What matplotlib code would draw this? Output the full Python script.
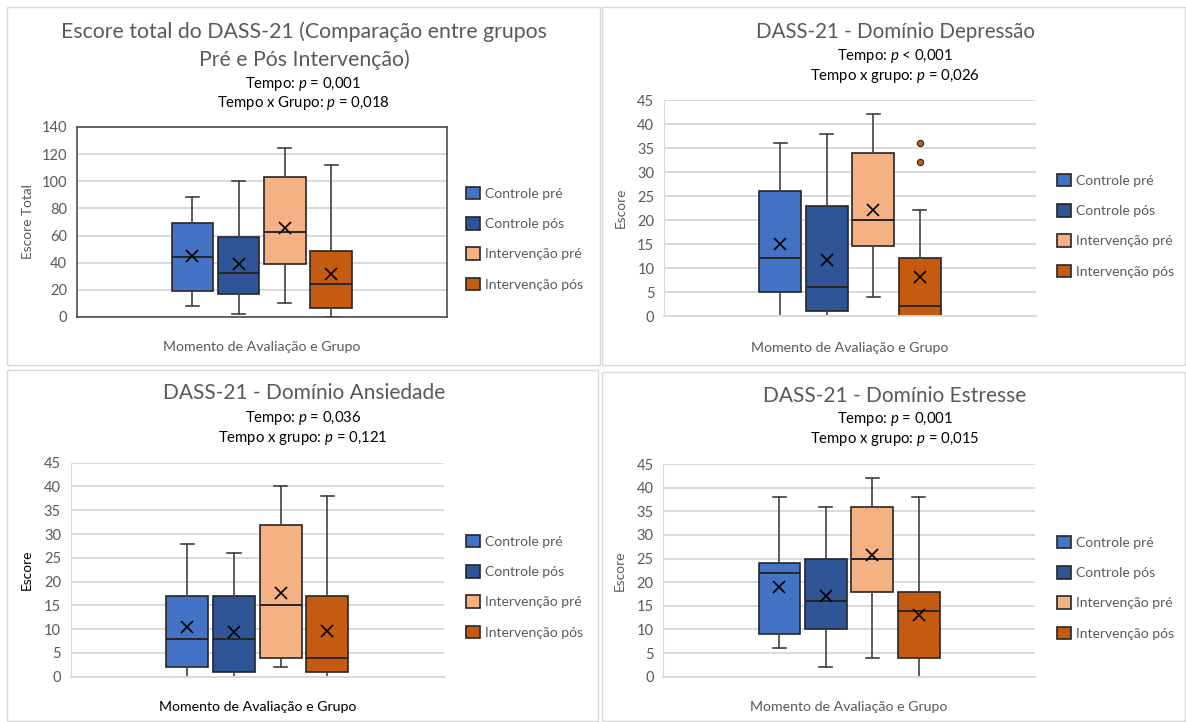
import matplotlib
matplotlib.use("Agg")
import matplotlib.pyplot as plt
from matplotlib.patches import Rectangle

plt.rcParams['font.family'] = ['Lato', 'DejaVu Sans']
plt.rcParams['mathtext.fontset'] = 'custom'
plt.rcParams['mathtext.rm'] = 'Lato'
plt.rcParams['mathtext.it'] = 'Lato:italic'

W, H = 1186, 722

groups = ['Controle pré', 'Controle pós', 'Intervenção pré', 'Intervenção pós']
colors = ['#4472C4', '#2F5597', '#F4B183', '#C55A11']

# total score
total_low = [8, 2, 10, 0]
total_q1 = [19.4, 16.7, 39.4, 6.5]
total_med = [44.5, 32.5, 62.3, 24.4]
total_q3 = [69, 59.3, 103.3, 49]
total_high = [88.4, 100, 124.3, 112.3]
total_mean = [45, 39, 65.5, 31.5]

# depressao
dep_low = [0, 0, 4, 0]
dep_q1 = [5, 1, 14.5, 0]
dep_med = [12, 6, 20, 2]
dep_q3 = [26, 23, 34, 12]
dep_high = [36, 38, 42, 22]
dep_mean = [15, 11.7, 22, 8.2]
dep_out = [[], [], [], [32, 36]]

# ansiedade
ans_low = [0, 0, 2, 0]
ans_q1 = [2, 1, 4, 1]
ans_med = [8, 8, 15, 4]
ans_q3 = [17, 17, 32, 17]
ans_high = [28, 26, 40, 38]
ans_mean = [10.5, 9.5, 17.5, 9.6]

# estresse
est_low = [6, 2, 4, 0]
est_q1 = [9, 10, 18, 4]
est_med = [22, 16, 25, 14]
est_q3 = [24, 25, 36, 18]
est_high = [38, 36, 42, 38]
est_mean = [19, 17, 25.7, 13.1]

GRAY = '#595959'
fig = plt.figure(figsize=(W / 100, H / 100), dpi=100)


def fx(x):
    return x / W


def fy(y):
    return 1 - y / H


# panel borders
for (l, t, r, b) in [(7, 7, 600, 365), (602, 7, 1185, 365),
                     (7, 370, 598, 721), (602, 372, 1185, 721)]:
    fig.add_artist(Rectangle((fx(l), fy(b)), (r - l) / W, (b - t) / H,
                             transform=fig.transFigure, fill=False,
                             ec='#d9d9d9', lw=1))


def panel(box, low, q1, med, q3, high, mean, out, ymax, step, framed,
          title, subs, ylabel, ylab_x, xlab_y, leg_xy, lab_color=GRAY,
          title_size=15.3):
    l, t, r, b = box
    ax = fig.add_axes([fx(l), fy(b), (r - l) / W, (b - t) / H])
    stats = []
    for i in range(4):
        stats.append(dict(whislo=low[i], q1=q1[i], med=med[i], q3=q3[i],
                          whishi=high[i], mean=mean[i],
                          fliers=out[i] if out else []))
    bp = ax.bxp(stats, positions=[1, 2, 3, 4], widths=0.9, capwidths=0.28,
                patch_artist=True, showmeans=True,
                boxprops=dict(ec='#262626', lw=1.2),
                medianprops=dict(color='#262626', lw=1.4),
                whiskerprops=dict(color='#404040', lw=1.2),
                capprops=dict(color='#404040', lw=1.2),
                meanprops=dict(marker='x', mec='black', mfc='black', ms=8, mew=1.2),
                flierprops=dict(marker='o', mfc=colors[3], mec='#262626', ms=4.5, mew=0.8))
    for p, c in zip(bp['boxes'], colors):
        p.set_facecolor(c)
    ax.set_xlim(-1.5, 6.5)
    ax.set_ylim(0, ymax)
    ax.set_yticks(range(0, ymax + 1, step))
    ax.set_xticks([])
    ax.yaxis.grid(True, color='#d9d9d9', lw=1.4)
    ax.set_axisbelow(True)
    ax.tick_params(axis='y', length=0, pad=7, labelsize=10.5, labelcolor=GRAY)
    if framed:
        for s in ax.spines.values():
            s.set_color('#404040')
            s.set_linewidth(1.1)
    else:
        ax.spines['top'].set_visible(False)
        ax.spines['right'].set_visible(False)
        ax.spines['left'].set_color('#d9d9d9')
        ax.spines['bottom'].set_color('#d9d9d9')
        ax.spines['bottom'].set_linewidth(1.4)
    cx = (l + r) / 2
    for txt, y in title:
        fig.text(fx(txt[1]), fy(y), txt[0], ha='center', va='center',
                 fontsize=title_size, color=GRAY)
    for txt, y in subs:
        fig.text(fx(txt[1]), fy(y), txt[0], ha='center', va='center',
                 fontsize=10.7, color='black')
    fig.text(fx(ylab_x), fy((t + b) / 2), ylabel, rotation=90, ha='center',
             va='center', fontsize=9.8, color=lab_color)
    fig.text(fx(cx), fy(xlab_y), 'Momento de Avaliação e Grupo', ha='center',
             va='center', fontsize=10.2, color=lab_color)
    ax.legend(bp['boxes'], groups, loc='upper left',
              bbox_to_anchor=(fx(leg_xy[0]), fy(leg_xy[1])),
              bbox_transform=fig.transFigure, frameon=False,
              handlelength=1.0, handleheight=1.0, handletextpad=0.4,
              labelspacing=1.24, borderpad=0, borderaxespad=0,
              fontsize=10, labelcolor=GRAY)
    return ax


panel((76.7, 127, 446.7, 317), total_low, total_q1, total_med, total_q3,
      total_high, total_mean, None, 140, 20, True,
      [(('Escore total do DASS-21 (Comparação entre grupos', 304), 32),
       (('Pré e Pós Intervenção)', 304), 60)],
      [(('Tempo: $\\it{p}$ = 0,001', 303), 84),
       (('Tempo x Grupo: $\\it{p}$ = 0,018', 303), 103)],
      'Escore Total', 28, 347, (466, 187))

panel((664, 100, 1036, 316), dep_low, dep_q1, dep_med, dep_q3,
      dep_high, dep_mean, dep_out, 45, 5, False,
      [(('DASS-21 - Domínio Depressão', 896), 32)],
      [(('Tempo: $\\it{p}$ < 0,001', 895), 56),
       (('Tempo x grupo: $\\it{p}$ = 0,026', 895), 76)],
      'Escore', 621, 348, (1057, 174), title_size=14.8)

panel((70.7, 462.7, 444, 676.7), ans_low, ans_q1, ans_med, ans_q3,
      ans_high, ans_mean, None, 45, 5, False,
      [(('DASS-21 - Domínio Ansiedade', 304), 393)],
      [(('Tempo: $\\it{p}$ = 0,036', 303), 418),
       (('Tempo x grupo: $\\it{p}$ = 0,121', 303), 438)],
      'Escore', 27, 707, (466, 535), lab_color='black', title_size=15)

panel((663.3, 464, 1035, 676.7), est_low, est_q1, est_med, est_q3,
      est_high, est_mean, None, 45, 5, False,
      [(('DASS-21 - Domínio Estresse', 895), 396)],
      [(('Tempo: $\\it{p}$ = 0,001', 895), 419),
       (('Tempo x grupo: $\\it{p}$ = 0,015', 895), 439)],
      'Escore', 620, 707, (1057, 536), title_size=15)

fig.savefig('out.png', dpi=100, facecolor='white')
